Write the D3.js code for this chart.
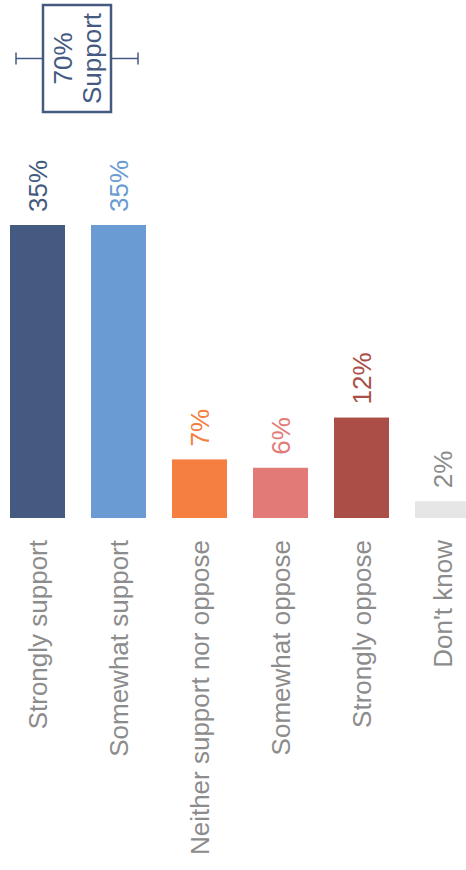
<!DOCTYPE html>
<html>
<head>
<meta charset="utf-8">
<script src="https://cdn.jsdelivr.net/npm/d3@7"></script>
<style>
  html, body { margin: 0; padding: 0; background: #ffffff; }
  svg { display: block; font-family: "Liberation Sans", Arial, sans-serif; }
</style>
</head>
<body>
<svg id="chart" width="466" height="870"></svg>
<script>
const categories = ["Strongly support", "Somewhat support", "Neither support nor oppose", "Somewhat oppose", "Strongly oppose", "Don't know"];
const values = [35, 35, 7, 6, 12, 2];
const valueLabels = ["35%", "35%", "7%", "6%", "12%", "2%"];
const barColors = ["#445a80", "#6a9bd2", "#f47f40", "#e27b77", "#aa4e47", "#e6e6e6"];
const labelColors = ["#445a80", "#6a9bd2", "#f47f40", "#e27b77", "#aa4e47", "#8c8c8c"];
const annotationLines = ["70%", "Support"];

const svg = d3.select("#chart");
const W = 466, H = 870;
const baseY = 518;

const x = d3.scaleBand()
  .domain(categories)
  .range([10, 470])
  .paddingInner(26 / 81)
  .paddingOuter(0);

const y = d3.scaleLinear()
  .domain([0, 35])
  .range([baseY, 225]);

const data = categories.map((c, i) => ({ c, v: values[i], label: valueLabels[i], color: barColors[i], lc: labelColors[i] }));

// bars
svg.append("g").selectAll("rect")
  .data(data)
  .join("rect")
  .attr("x", d => x(d.c))
  .attr("y", d => y(d.v))
  .attr("width", x.bandwidth())
  .attr("height", d => y(0) - y(d.v))
  .attr("fill", d => d.color);

// value labels
svg.append("g").selectAll("text")
  .data(data)
  .join("text")
  .attr("transform", d => `translate(${x(d.c) + x.bandwidth() / 2},${y(d.v) - 13}) rotate(-90)`)
  .attr("dy", "0.36em")
  .attr("text-anchor", "start")
  .attr("font-size", 26)
  .attr("fill", d => d.lc)
  .text(d => d.label);

// category labels
svg.append("g").selectAll("text")
  .data(data)
  .join("text")
  .attr("transform", d => `translate(${x(d.c) + x.bandwidth() / 2},${baseY + 22}) rotate(-90)`)
  .attr("dy", "0.36em")
  .attr("text-anchor", "end")
  .attr("font-size", 26)
  .attr("fill", "#8c8c8c")
  .text(d => d.c);

// annotation box
const ann = svg.append("g");
const boxX = 43, boxY = 5, boxW = 68, boxH = 107;
const midY = boxY + boxH / 2;
const annColor = "#445a80";
ann.append("line").attr("x1", 16).attr("x2", boxX).attr("y1", midY).attr("y2", midY)
  .attr("stroke", annColor).attr("stroke-width", 1.5);
ann.append("line").attr("x1", 16).attr("x2", 16).attr("y1", midY - 6).attr("y2", midY + 6)
  .attr("stroke", annColor).attr("stroke-width", 1.5);
ann.append("line").attr("x1", boxX + boxW).attr("x2", 138).attr("y1", midY).attr("y2", midY)
  .attr("stroke", annColor).attr("stroke-width", 1.5);
ann.append("line").attr("x1", 138).attr("x2", 138).attr("y1", midY - 6).attr("y2", midY + 6)
  .attr("stroke", annColor).attr("stroke-width", 1.5);
ann.append("rect").attr("x", boxX).attr("y", boxY).attr("width", boxW).attr("height", boxH)
  .attr("fill", "#ffffff").attr("stroke", annColor).attr("stroke-width", 2.5);
ann.selectAll("text.ann")
  .data(annotationLines)
  .join("text")
  .attr("class", "ann")
  .attr("transform", (d, i) => `translate(${63 + i * 29},${midY}) rotate(-90)`)
  .attr("dy", "0.36em")
  .attr("text-anchor", "middle")
  .attr("font-size", 26)
  .attr("fill", annColor)
  .text(d => d);
</script>
</body>
</html>
